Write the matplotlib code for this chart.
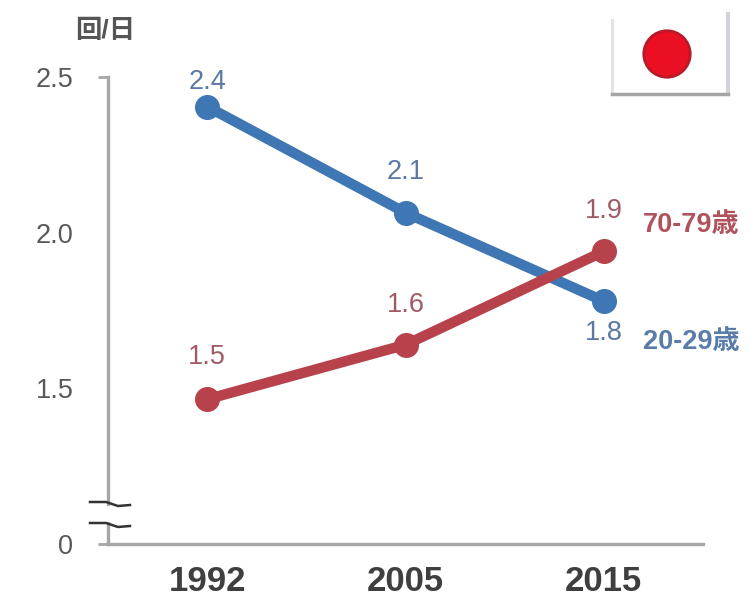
import matplotlib
matplotlib.use("Agg")
import matplotlib.pyplot as plt
from matplotlib.patches import Rectangle, Circle

plt.rcParams['font.family'] = ['Liberation Sans', 'Noto Sans CJK JP', 'DejaVu Sans']

years = ['1992', '2005', '2015']
young = [2.405, 2.064, 1.78]
old = [1.465, 1.64, 1.94]
young_labels = ['2.4', '2.1', '1.8']
old_labels = ['1.5', '1.6', '1.9']
y_ticks = [1.0, 1.5, 2.0, 2.5]
y_tick_labels = ['0', '1.5', '2.0', '2.5']
y_title = '回/日'
young_name = '20-29歳'
old_name = '70-79歳'

BLUE = '#3f76b4'
RED = '#b8424c'
W, H = 749, 598
fig = plt.figure(figsize=(W / 100, H / 100), dpi=100, facecolor='white')


def fx(px):
    return px / W


def fy(py):
    return 1 - py / H


ax = fig.add_axes([fx(108), fy(544), fx(703) - fx(108), fy(77) - fy(544)])
x = list(range(len(years)))
ax.plot(x, young, color=BLUE, lw=7.5, marker='o', ms=17, solid_capstyle='round', zorder=3)
ax.plot(x, old, color=RED, lw=7.5, marker='o', ms=17, solid_capstyle='round', zorder=4)
ax.set_xlim(-0.5, 2.5)
ax.set_ylim(1.0, 2.5)
ax.set_xticks(x, years)
ax.set_yticks(y_ticks, y_tick_labels)
for s in ('top', 'right'):
    ax.spines[s].set_visible(False)
for s in ('left', 'bottom'):
    ax.spines[s].set_color('#a6a6a6')
    ax.spines[s].set_linewidth(2.4)
ax.patch.set_alpha(0)
ax.tick_params(axis='x', length=0, pad=15, labelsize=25, labelcolor='#3f3f3f')
ax.tick_params(axis='y', length=7, width=2, color='#a6a6a6', pad=18, labelsize=19.5, labelcolor='#595959')
for i in (1, 2):
    ax.yaxis.get_major_ticks()[i].tick1line.set_visible(False)
for lab in ax.get_xticklabels():
    lab.set_fontweight('bold')

young_off = [(0, 25), (0, 41), (0, -32)]
old_off = [(0, 42), (0, 40), (0, 40)]
for i in x:
    ax.annotate(young_labels[i], (i, young[i]), xytext=young_off[i], textcoords='offset pixels',
                ha='center', va='center', fontsize=19.5, color='#5a7aa3', zorder=6)
    ax.annotate(old_labels[i], (i, old[i]), xytext=old_off[i], textcoords='offset pixels',
                ha='center', va='center', fontsize=19.5, color='#a05a64', zorder=6)

fig.text(fx(105), fy(31), y_title, ha='center', va='center', fontsize=19, fontweight='bold', color='#555555')
fig.text(fx(691), fy(225), old_name, ha='center', va='center', fontsize=19.5, fontweight='bold', color='#b0525c')
fig.text(fx(691), fy(342), young_name, ha='center', va='center', fontsize=19.5, fontweight='bold', color='#5a7ca8')

# axis break
fig.add_artist(Rectangle((fx(98), fy(522)), fx(20), fy(506) - fy(522), transform=fig.transFigure,
                         facecolor='white', edgecolor='none', zorder=8))
for base in (503, 524):
    fig.add_artist(plt.Line2D([fx(90), fx(106), fx(118), fx(130)],
                              [fy(base - 1), fy(base - 1), fy(base + 3), fy(base + 2)],
                              transform=fig.transFigure, color='#333333', lw=1.8, zorder=9))

# flag
fig.add_artist(plt.Line2D([fx(612), fx(612)], [fy(20), fy(93)],
                          transform=fig.transFigure, color='#e4e4e6', lw=2.2, zorder=2))
fig.add_artist(plt.Line2D([fx(728), fx(728)], [fy(14), fy(93)],
                          transform=fig.transFigure, color='#d2d2d8', lw=3, zorder=2))
fig.add_artist(plt.Line2D([fx(612), fx(728)], [fy(94), fy(94)], transform=fig.transFigure,
                          color='#a5a5a5', lw=2.5, zorder=3))
flag = fig.add_axes([fx(640), fy(81), fx(694) - fx(640), fy(27) - fy(81)])
flag.set_xlim(-1, 1)
flag.set_ylim(-1, 1)
flag.axis('off')
flag.add_patch(Circle((0, 0), 0.86, facecolor='#ea0f22', edgecolor='#b81a2c', lw=2))

fig.savefig('out.png', dpi=100)
